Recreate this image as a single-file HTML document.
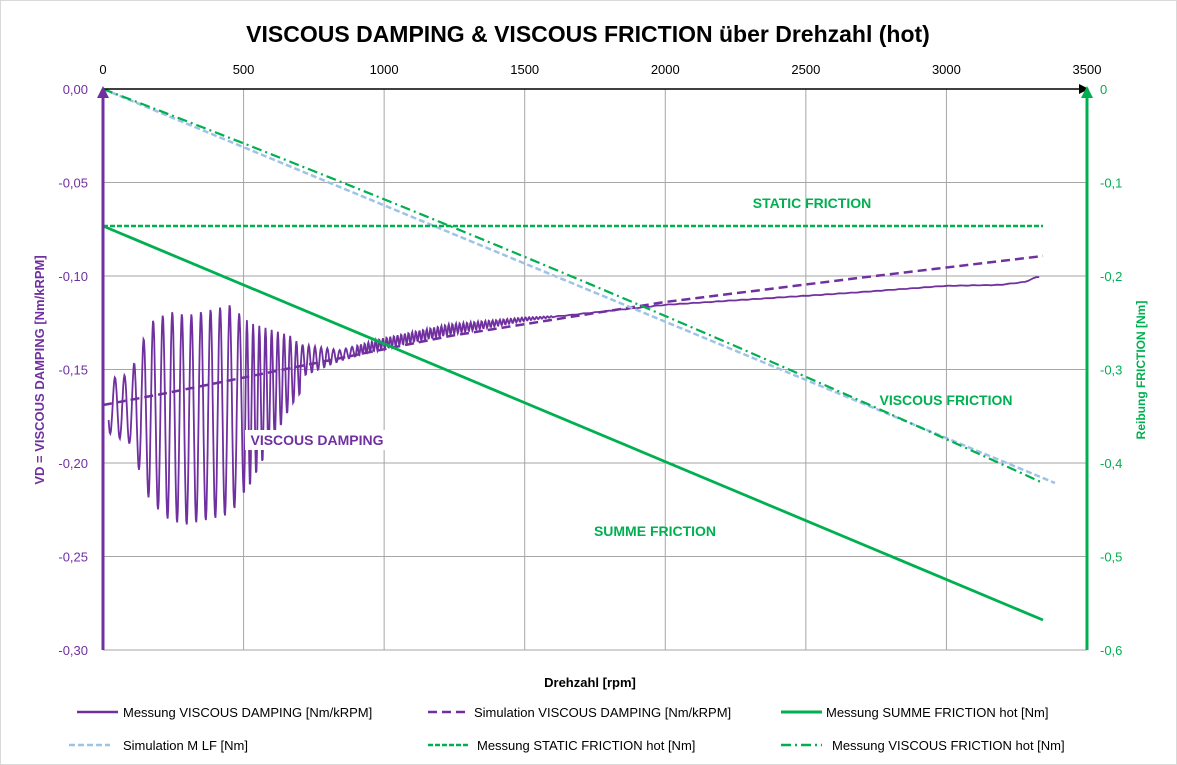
<!DOCTYPE html>
<html><head><meta charset="utf-8"><style>
html,body{margin:0;padding:0;background:#fff}
svg{display:block;font-family:"Liberation Sans",sans-serif}
</style></head><body>
<svg id="s" width="1177" height="765" viewBox="0 0 1177 765" xmlns="http://www.w3.org/2000/svg">
<rect x="0.5" y="0.5" width="1176" height="764" fill="#fff" stroke="#d9d9d9"/>
<text x="588" y="42" text-anchor="middle" font-size="23" font-weight="bold" fill="#000">VISCOUS DAMPING &amp; VISCOUS FRICTION über Drehzahl (hot)</text>
<g id="grid" stroke="#a6a6a6" stroke-width="1"></g>
<g id="ticks"></g>
<g id="series"></g>
<line x1="103" y1="89" x2="1080" y2="89" stroke="#000" stroke-width="1.5"/>
<polygon points="1089,89 1079,84 1079,94" fill="#000"/>
<line x1="103" y1="650" x2="103" y2="96" stroke="#7030A0" stroke-width="3"/>
<polygon points="103,86 97,98 109,98" fill="#7030A0"/>
<line x1="1087" y1="650" x2="1087" y2="96" stroke="#00B050" stroke-width="3"/>
<polygon points="1087,86 1081,98 1093,98" fill="#00B050"/>
<g font-size="14" font-weight="bold" fill="#00B050">
<text x="812" y="208" text-anchor="middle">STATIC FRICTION</text>
<text x="946" y="405" text-anchor="middle">VISCOUS FRICTION</text>
<text x="655" y="536" text-anchor="middle">SUMME FRICTION</text>
</g>
<rect x="245" y="430" width="145" height="20" fill="#fff"/>
<text x="317" y="445" text-anchor="middle" font-size="14" font-weight="bold" fill="#7030A0">VISCOUS DAMPING</text>
<text x="590" y="687" text-anchor="middle" font-size="13" font-weight="bold">Drehzahl [rpm]</text>
<text transform="translate(44,370) rotate(-90)" text-anchor="middle" font-size="13" font-weight="bold" fill="#7030A0">VD = VISCOUS DAMPING [Nm/kRPM]</text>
<text transform="translate(1145,370) rotate(-90)" text-anchor="middle" font-size="12" font-weight="bold" fill="#00B050">Reibung FRICTION [Nm]</text>
<g font-size="13" fill="#000">
<line x1="77" y1="712" x2="118" y2="712" stroke="#7030A0" stroke-width="2.5"/>
<text x="123" y="717">Messung VISCOUS DAMPING [Nm/kRPM]</text>
<line x1="428" y1="712" x2="469" y2="712" stroke="#7030A0" stroke-width="2.5" stroke-dasharray="9,5"/>
<text x="474" y="717">Simulation VISCOUS DAMPING [Nm/kRPM]</text>
<line x1="781" y1="712" x2="822" y2="712" stroke="#00B050" stroke-width="3"/>
<text x="826" y="717">Messung SUMME FRICTION hot [Nm]</text>
<line x1="69" y1="745" x2="110" y2="745" stroke="#9DC3E6" stroke-width="2.5" stroke-dasharray="6,3"/>
<text x="123" y="750">Simulation M LF [Nm]</text>
<line x1="428" y1="745" x2="469" y2="745" stroke="#00B050" stroke-width="2.5" stroke-dasharray="5,2"/>
<text x="477" y="750">Messung STATIC FRICTION hot [Nm]</text>
<line x1="781" y1="745" x2="822" y2="745" stroke="#00B050" stroke-width="2.5" stroke-dasharray="10,4,2,4"/>
<text x="832" y="750">Messung VISCOUS FRICTION hot [Nm]</text>
</g>
</svg>
<script>
var NS="http://www.w3.org/2000/svg";
function X(r){return 103+r*0.28114;}
function el(p,tag,a,txt){var e=document.createElementNS(NS,tag);for(var k in a)e.setAttribute(k,a[k]);if(txt!=null)e.textContent=txt;p.appendChild(e);return e;}
var g=document.getElementById('grid'),t=document.getElementById('ticks'),s=document.getElementById('series');
for(var r=500;r<=3000;r+=500)el(g,'line',{x1:X(r),y1:89,x2:X(r),y2:650});
for(var i=1;i<=6;i++){var y=89+i*93.5;el(g,'line',{x1:103,y1:y,x2:1087,y2:y});}
for(var r=0;r<=3500;r+=500)el(t,'text',{x:X(r),y:74,'text-anchor':'middle','font-size':13},String(r));
var L=['0,00','-0,05','-0,10','-0,15','-0,20','-0,25','-0,30'],R=['0','-0,1','-0,2','-0,3','-0,4','-0,5','-0,6'];
for(var i=0;i<7;i++){var y=89+i*93.5+5;el(t,'text',{x:88,y:y,'text-anchor':'end','font-size':13,fill:'#7030A0'},L[i]);el(t,'text',{x:1100,y:y,'font-size':13,fill:'#00B050'},R[i]);}
function interp(pts,x){for(var i=1;i<pts.length;i++){if(x<=pts[i][0]){var a=pts[i-1],b=pts[i],k=(x-a[0])/(b[0]-a[0]);return a[1]+(b[1]-a[1])*k;}}return pts[pts.length-1][1];}
var base=[[103,405],[150,412],[187,420],[250,405],[290,372],[384,346],[450,332],[525,320],[665,305],[850,293],[945,286],[1000,285],[1025,282],[1037,277]];
function amp(x){var pts=[[103,25],[130,35],[150,90],[170,105],[230,105],[300,25],[340,8],[384,8],[450,8],[520,3],[560,0.4],[1040,0.3]];return interp(pts,x);}
var d='';
for(var r=20;r<=3330;r+=(r<1600?2:10)){
 var x=X(r);
 var ph=r<500?r/34:(r<900?500/34+(r-500)/22:500/34+400/22+(r-900)/13);
 var o=Math.sin(ph*2*Math.PI);
 if(r>700)o=(o+0.5)/1.5;
 var y=interp(base,x)-amp(x)*o;
 d+=(d?'L':'M')+x.toFixed(1)+','+y.toFixed(1);
}
el(s,'path',{d:d,fill:'none',stroke:'#7030A0','stroke-width':1.8});
var sp=[[103,405],[167,393],[450,336],[665,302],[850,279],[1043,256]],sd='';
for(var i=0;i<sp.length;i++)sd+=(i?'L':'M')+sp[i][0]+','+sp[i][1];
el(s,'path',{d:sd,fill:'none',stroke:'#7030A0','stroke-width':2.5,'stroke-dasharray':'9,5'});
el(s,'line',{x1:103,y1:89,x2:1055,y2:483,stroke:'#9DC3E6','stroke-width':2.5,'stroke-dasharray':'6,3'});
el(s,'path',{d:'M103,89 Q573,268 1043,483',fill:'none',stroke:'#00B050','stroke-width':2.2,'stroke-dasharray':'10,4,2,4'});
el(s,'line',{x1:103,y1:226,x2:1043,y2:226,stroke:'#00B050','stroke-width':2.5,'stroke-dasharray':'5,2'});
el(s,'line',{x1:103,y1:226,x2:1043,y2:620,stroke:'#00B050','stroke-width':2.8});
</script>
</body></html>
